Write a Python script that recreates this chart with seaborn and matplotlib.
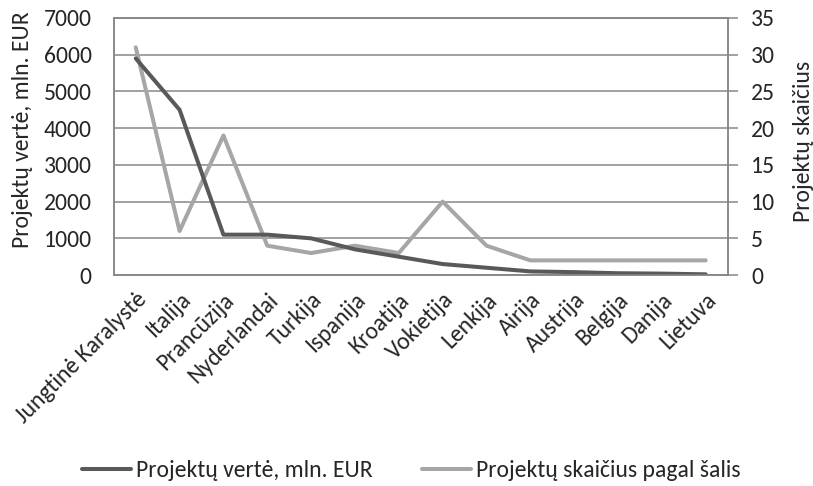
import matplotlib
matplotlib.use("Agg")
import matplotlib.pyplot as plt
import seaborn as sns
import pandas as pd
from matplotlib.lines import Line2D

countries = ["Jungtinė Karalystė", "Italija", "Prancūzija", "Nyderlandai", "Turkija",
             "Ispanija", "Kroatija", "Vokietija", "Lenkija", "Airija", "Austrija",
             "Belgija", "Danija", "Lietuva"]
value_meur = [5900, 4500, 1100, 1100, 1000, 700, 500, 300, 200, 100, 80, 50, 40, 20]
project_count = [31, 6, 19, 4, 3, 4, 3, 10, 4, 2, 2, 2, 2, 2]
left_ticks = [0, 1000, 2000, 3000, 4000, 5000, 6000, 7000]
right_ticks = [0, 5, 10, 15, 20, 25, 30, 35]

label_value = "Projektų vertė, mln. EUR"
label_count_axis = "Projektų skaičius"
label_count = "Projektų skaičius pagal šalis"

df = pd.DataFrame({"country": countries, "value": value_meur, "count": project_count})
df["pos"] = range(len(countries))

sns.set_theme(style="white")
plt.rcParams["font.family"] = ["Carlito", "Open Sans", "DejaVu Sans"]

dark = "#595959"
light = "#a6a6a6"
gridc = "#878787"
fs = 17

fig = plt.figure(figsize=(8.13, 4.86), dpi=100)
ax = fig.add_axes([0.140, 0.434, 0.755, 0.529])
ax2 = ax.twinx()

sns.lineplot(data=df, x="pos", y="value", ax=ax, color=dark, linewidth=2.9, legend=False)
sns.lineplot(data=df, x="pos", y="count", ax=ax2, color=light, linewidth=2.9, legend=False)

ax.set_zorder(ax2.get_zorder() + 1)
ax.patch.set_visible(False)

n = len(countries)
ax.set_xlim(-0.5, n - 0.5)
ax.set_ylim(left_ticks[0], left_ticks[-1])
ax2.set_ylim(right_ticks[0], right_ticks[-1])
ax.set_yticks(left_ticks)
ax2.set_yticks(right_ticks)
ax.grid(False)
ax2.grid(True, axis="y", color=gridc, linewidth=1.1)
ax2.set_axisbelow(True)

ax.set_xticks(df["pos"])
ax.set_xticklabels(countries, rotation=45, ha="right", rotation_mode="anchor", fontsize=fs)
ax.tick_params(axis="x", length=0, pad=10)
ax.tick_params(axis="y", labelsize=fs, length=0, pad=16, left=True)
ax2.tick_params(axis="y", labelsize=fs, length=7, width=1.1, color=gridc, direction="out", pad=10, right=True)

for a in (ax, ax2):
    for s in a.spines.values():
        s.set_color(gridc)
        s.set_linewidth(1.1)

ax.set_xlabel("")
ax.set_ylabel(label_value, fontsize=fs)
ax2.set_ylabel(label_count_axis, fontsize=fs)
ax.yaxis.set_label_coords(-0.132, 0.564)
ax2.yaxis.set_label_coords(1.106, 0.521)

handles = [Line2D([0], [0], color=dark, lw=2.9), Line2D([0], [0], color=light, lw=2.9)]
fig.legend(handles, [label_value, label_count], loc="center", bbox_to_anchor=(0.506, 0.031),
           ncol=2, frameon=False, fontsize=fs, handlelength=2.08, handletextpad=0.21,
           columnspacing=2.08, borderpad=0, borderaxespad=0)

fig.savefig("out.png", dpi=100)
